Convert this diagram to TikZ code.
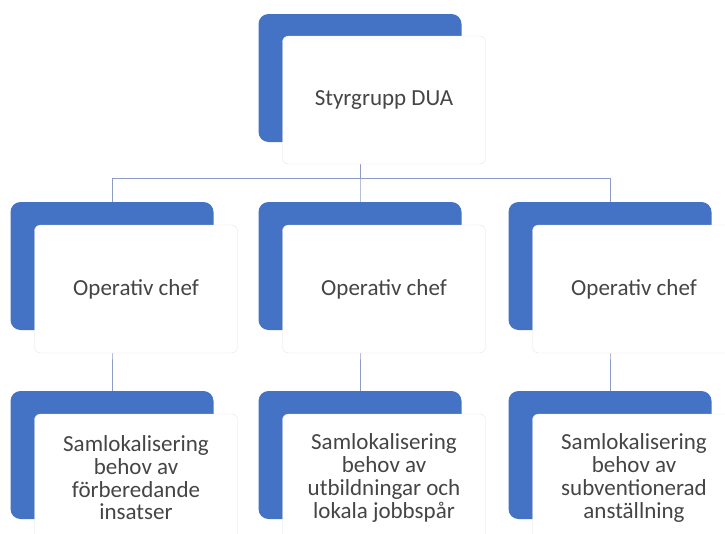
\documentclass[tikz,border=0pt]{standalone}
\usepackage{fontspec}
\setmainfont{Carlito}
\usetikzlibrary{backgrounds}
\definecolor{orgBlue}{HTML}{4472C4}
\definecolor{orgText}{HTML}{454545}
\definecolor{orgLine}{HTML}{8C9CC4}
\tikzset{
  backBox/.style={fill=orgBlue, rounded corners=10pt, minimum width=203pt, minimum height=128pt, inner sep=0pt},
  frontBox/.style={fill=white, draw=black!10, rounded corners=6pt, minimum width=203pt, minimum height=128pt,
    inner sep=0pt, align=center, text=orgText, font=\fontsize{23}{22.7}\selectfont},
  link/.style={draw=orgLine, line width=1pt}
}
\begin{document}
\begin{tikzpicture}[x=1pt, y=-1pt]
    \useasboundingbox (0,0) rectangle (725,533);
    \clip (0,0) rectangle (725,533);
    \node[backBox] (duaBack) at (360,78) {};
    \node[frontBox] (dua) at (384,100) {Styrgrupp DUA};
    \foreach \i/\cx/\cText in {1/112/{Samlokalisering\\behov av\\förberedande\\insatser},
                               2/360/{Samlokalisering\\behov av\\utbildningar och\\lokala jobbspår},
                               3/610/{Samlokalisering\\behov av\\subventionerad\\anställning}}
    {
        \node[backBox] (chefBack\i) at (\cx,266) {};
        \node[frontBox] (chef\i) at (\cx+24,289) {Operativ chef};
        \node[backBox] (projBack\i) at (\cx,455) {};
        \node[frontBox] (proj\i) at (\cx+24,478) {\cText};
    }
    \begin{pgfonlayer}{background}
        \fill[white] (0,0) rectangle (725,533);
        \coordinate (bus) at (0,178);
        \foreach \i in {1,2,3}
            \draw[link] (duaBack.center) -- (duaBack.center |- bus) -| (chefBack\i.center) -- (projBack\i.center);
    \end{pgfonlayer}
\end{tikzpicture}
\end{document}
